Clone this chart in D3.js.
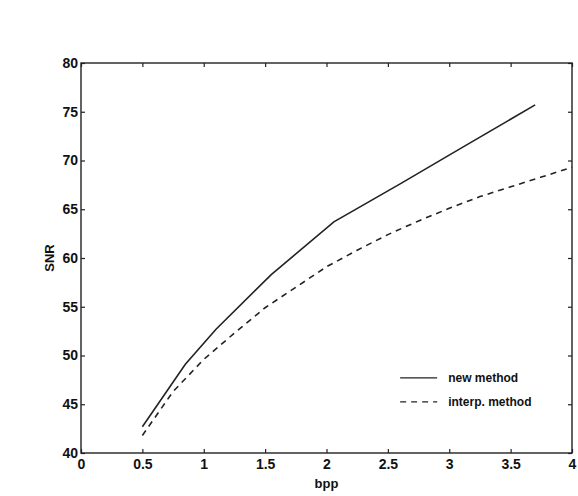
<!DOCTYPE html>
<html>
<head>
<meta charset="utf-8">
<script src="https://cdn.jsdelivr.net/npm/d3@7"></script>
<style>
  body { margin: 0; background: #fff; }
  svg text { font-family: "Liberation Sans", Arial, sans-serif; fill: #111; }
</style>
</head>
<body>
<div id="chart"></div>
<script>
// data
var newMethod = [
  [0.5, 42.7], [0.85, 49.1], [1.1, 52.7], [1.55, 58.3],
  [2.06, 63.7], [2.6, 67.6], [3.1, 71.3], [3.7, 75.7]
];
var interpMethod = [
  [0.5, 41.8], [0.75, 46.3], [1.0, 49.6], [1.25, 52.3], [1.5, 54.9],
  [1.75, 57.0], [2.0, 59.1], [2.25, 60.8], [2.5, 62.4], [2.75, 63.8],
  [3.0, 65.1], [3.25, 66.3], [3.5, 67.3], [3.75, 68.3], [4.0, 69.3]
];
var xTicks = [0, 0.5, 1, 1.5, 2, 2.5, 3, 3.5, 4];
var yTicks = [40, 45, 50, 55, 60, 65, 70, 75, 80];
var legendLabels = ["new method", "interp. method"];

var margin = { top: 63, right: 6, bottom: 43, left: 81 };
var width = 578 - margin.left - margin.right,
    height = 496 - margin.top - margin.bottom;

var svg = d3.select("#chart").append("svg")
    .attr("width", 578)
    .attr("height", 496)
  .append("g")
    .attr("transform", "translate(" + margin.left + "," + margin.top + ")");

var x = d3.scaleLinear().domain([0, 4]).range([0, width]);
var y = d3.scaleLinear().domain([40, 80]).range([height, 0]);

// axes, ticks pointing inward like matlab
var tickLen = 4;
function styleAxis(g) {
  g.select(".domain").remove();
  g.selectAll(".tick line").attr("stroke", "#222").attr("stroke-width", 1.2);
  g.selectAll("text").style("font-size", "14px").style("font-weight", "bold");
}

svg.append("g")
    .attr("transform", "translate(0," + height + ")")
    .call(d3.axisBottom(x).tickValues(xTicks).tickFormat(d3.format("")).tickSizeInner(-tickLen).tickPadding(6))
    .call(styleAxis);

svg.append("g")
    .call(d3.axisLeft(y).tickValues(yTicks).tickSizeInner(-tickLen).tickPadding(3))
    .call(styleAxis);

svg.append("g")
    .call(d3.axisTop(x).tickValues(xTicks).tickFormat("").tickSizeInner(-tickLen))
    .call(styleAxis);

svg.append("g")
    .attr("transform", "translate(" + width + ",0)")
    .call(d3.axisRight(y).tickValues(yTicks).tickFormat("").tickSizeInner(-tickLen))
    .call(styleAxis);

// box
svg.append("rect")
    .attr("width", width)
    .attr("height", height)
    .attr("fill", "none")
    .attr("stroke", "#222")
    .attr("stroke-width", 1.4);

var line = d3.line()
    .x(d => x(d[0]))
    .y(d => y(d[1]));

svg.append("path")
    .datum(newMethod)
    .attr("d", line)
    .attr("fill", "none")
    .attr("stroke", "#222")
    .attr("stroke-width", 1.6);

svg.append("path")
    .datum(interpMethod)
    .attr("d", line)
    .attr("fill", "none")
    .attr("stroke", "#222")
    .attr("stroke-width", 1.6)
    .attr("stroke-dasharray", "6,5");

// axis labels
svg.append("text")
    .attr("x", x(2))
    .attr("y", height + 35)
    .attr("text-anchor", "middle")
    .style("font-size", "13px")
    .style("font-weight", "bold")
    .text("bpp");

svg.append("text")
    .attr("transform", "translate(-27," + y(60) + ") rotate(-90)")
    .attr("text-anchor", "middle")
    .style("font-size", "13px")
    .style("font-weight", "bold")
    .text("SNR");

// legend
var legend = svg.append("g")
    .attr("transform", "translate(" + x(2.6) + "," + y(47.7) + ")");

legendLabels.forEach(function(label, i) {
  var row = legend.append("g").attr("transform", "translate(0," + (i * 24) + ")");
  row.append("line")
      .attr("x1", 0).attr("x2", 37)
      .attr("stroke", "#222")
      .attr("stroke-width", 1.4)
      .attr("stroke-dasharray", i === 1 ? "6,5" : null);
  row.append("text")
      .attr("x", 48)
      .attr("dy", "0.35em")
      .style("font-size", "12px")
      .style("font-weight", "bold")
      .text(label);
});
</script>
</body>
</html>
